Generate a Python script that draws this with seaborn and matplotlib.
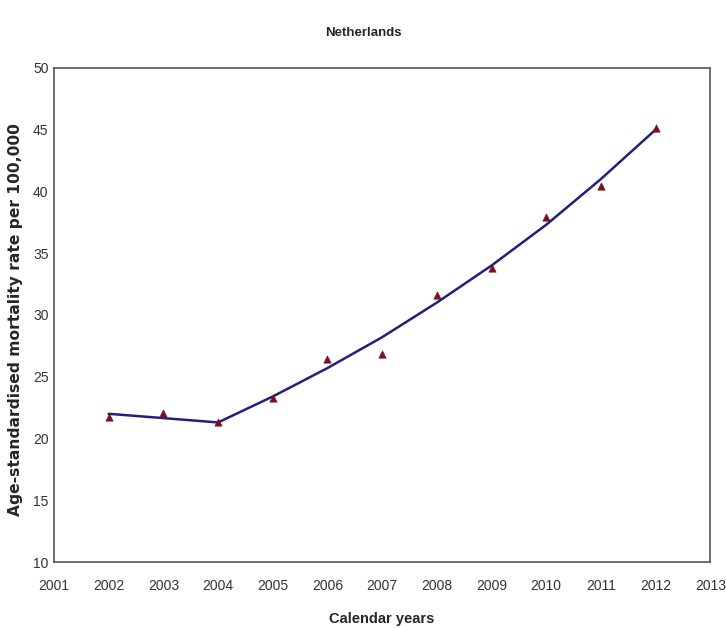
import pandas as pd
import matplotlib
matplotlib.use('Agg')
import matplotlib.pyplot as plt
import seaborn as sns

# observed rates and joinpoint fitted values
years = [2002, 2003, 2004, 2005, 2006, 2007, 2008, 2009, 2010, 2011, 2012]
observed = [21.7, 22.1, 21.3, 23.3, 26.4, 26.8, 31.6, 33.8, 37.9, 40.4, 45.1]
fitted = [22.0, 21.65, 21.3, 23.4, 25.7, 28.2, 31.0, 34.0, 37.3, 41.0, 45.0]

x_ticks = list(range(2001, 2014))
y_ticks = [10, 15, 20, 25, 30, 35, 40, 45, 50]

df = pd.DataFrame({'year': years, 'observed': observed, 'fitted': fitted})

sns.set_style('white')
plt.rcParams['font.family'] = ['Liberation Sans', 'DejaVu Sans']

fig = plt.figure(figsize=(7.26, 6.28), dpi=100)
ax = fig.add_axes([0.0744, 0.105, 0.904, 0.787])

sns.lineplot(data=df, x='year', y='fitted', ax=ax, color='#22207a', linewidth=1.8)
sns.scatterplot(data=df, x='year', y='observed', ax=ax, marker='^', s=28,
                color='#7a1020', edgecolor='#7a1020', zorder=3)

ax.set_xlim(2001, 2013)
ax.set_ylim(10, 50)
ax.set_xticks(x_ticks)
ax.set_yticks(y_ticks)
ax.tick_params(axis='both', length=0, labelsize=10, labelcolor='#333333')
ax.tick_params(axis='x', pad=12)
ax.tick_params(axis='y', pad=4)
for s in ax.spines.values():
    s.set_color('#555555')
    s.set_linewidth(1.2)

ax.set_xlabel('Calendar years', fontsize=10.5, fontweight='bold', labelpad=14)
ax.set_ylabel('Age-standardised mortality rate per 100,000', fontsize=11.2,
              fontweight='bold', family=['DejaVu Sans'])
ax.yaxis.set_label_coords(-0.047, 0.49)
fig.text(0.5, 0.948, 'Netherlands', ha='center', va='center', fontsize=9.5,
         fontweight='bold')

fig.savefig('out.png', dpi=100)
